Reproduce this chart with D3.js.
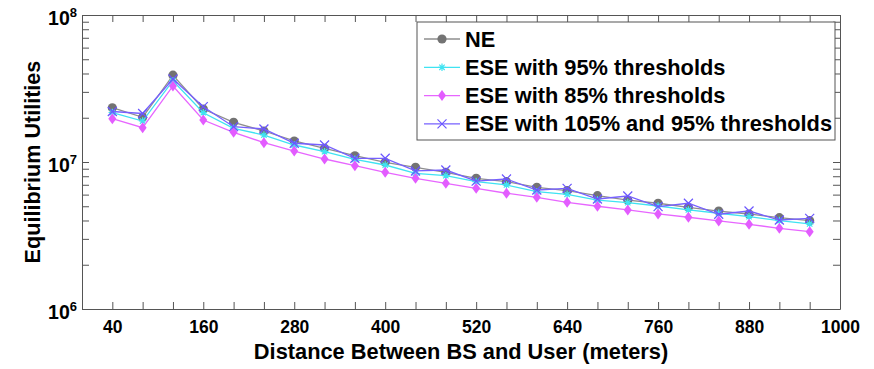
<!DOCTYPE html>
<html>
<head>
<meta charset="utf-8">
<script src="https://cdn.jsdelivr.net/npm/d3@7"></script>
<style>
  body { margin: 0; background: #fff; }
  svg { display: block; font-family: "Liberation Sans", Arial, sans-serif; font-weight: bold; }
</style>
</head>
<body>
<svg width="874" height="369"></svg>
<script>
// Data
var distances = [40, 80, 120, 160, 200, 240, 280, 320, 360, 400, 440, 480,
                 520, 560, 600, 640, 680, 720, 760, 800, 840, 880, 920, 960];
var neValues = [23.4e6, 20.15e6, 38.95e6, 22.94e6, 18.63e6, 16.25e6, 13.9e6, 12.4e6, 11.03e6, 9.95e6, 9.2e6, 8.51e6,
                7.75e6, 7.35e6, 6.73e6, 6.38e6, 5.9e6, 5.51e6, 5.24e6, 4.92e6, 4.64e6, 4.43e6, 4.18e6, 3.99e6];
var ese95Values = [21.71e6, 19.0e6, 35.74e6, 21.64e6, 16.96e6, 15.26e6, 13.05e6, 11.75e6, 10.43e6, 9.54e6, 8.38e6, 8.07e6,
                   7.35e6, 6.98e6, 6.28e6, 6.03e6, 5.51e6, 5.29e6, 5.02e6, 4.72e6, 4.48e6, 4.25e6, 3.99e6, 3.79e6];
var ese85Values = [19.71e6, 17.12e6, 32.89e6, 19.31e6, 15.92e6, 13.53e6, 11.88e6, 10.48e6, 9.44e6, 8.51e6, 7.75e6, 7.16e6,
                   6.62e6, 6.13e6, 5.75e6, 5.32e6, 5.0e6, 4.72e6, 4.43e6, 4.21e6, 3.97e6, 3.77e6, 3.54e6, 3.36e6];
var ese105Values = [22.06e6, 21.37e6, 36.7e6, 23.78e6, 17.39e6, 16.77e6, 13.41e6, 13.05e6, 10.6e6, 10.6e6, 8.69e6, 8.82e6,
                    7.42e6, 7.66e6, 6.45e6, 6.62e6, 5.6e6, 5.87e6, 4.97e6, 5.24e6, 4.41e6, 4.64e6, 4.03e6, 4.14e6];
var seriesNames = ['NE', 'ESE with 95% thresholds', 'ESE with 85% thresholds', 'ESE with 105% and 95% thresholds'];
var xTickLabels = [40, 160, 280, 400, 520, 640, 760, 880, 1000];
var xTicks = [40, 80, 120, 160, 200, 240, 280, 320, 360, 400, 440, 480, 520,
              560, 600, 640, 680, 720, 760, 800, 840, 880, 920, 960, 1000];
var yMajorTicks = [1e6, 1e7, 1e8];

// Margins and sizes
var margin = {top: 15, right: 34, bottom: 60, left: 82};
var width = 874 - margin.left - margin.right;
var height = 369 - margin.top - margin.bottom;
var axisColor = '#555';
var tickLen = 7;

var x = d3.scaleLinear().domain([0, 1000]).range([0, width]);
var y = d3.scaleLog().domain([1e6, 1e8]).range([height, 0]);

// minor log ticks 1..9 x 10^n
var yTicks = [];
[1e6, 1e7].forEach(function(p) {
  for (var k = 1; k < 10; k++) yTicks.push(k * p);
});
yTicks.push(1e8);

var svg = d3.select('svg');
var chart = svg.append('g')
  .attr('transform', 'translate(' + margin.left + ',' + margin.top + ')');

function styleAxis(g) {
  g.selectAll('path, line').attr('stroke', axisColor).attr('stroke-width', 1);
  g.selectAll('text').attr('fill', '#000').attr('font-family', null).attr('font-size', null);
}

// Tick marks pointing inward on all four sides
chart.append('g').attr('transform', 'translate(0,' + height + ')')
  .call(d3.axisBottom(x).tickValues(xTicks).tickSizeInner(-tickLen).tickSizeOuter(0).tickFormat(''))
  .call(styleAxis);
chart.append('g')
  .call(d3.axisTop(x).tickValues(xTicks).tickSizeInner(-tickLen).tickSizeOuter(0).tickFormat(''))
  .call(styleAxis);
chart.append('g')
  .call(d3.axisLeft(y).tickValues(yTicks).tickSizeInner(-tickLen).tickSizeOuter(0).tickFormat(''))
  .call(styleAxis);
chart.append('g').attr('transform', 'translate(' + width + ',0)')
  .call(d3.axisRight(y).tickValues(yTicks).tickSizeInner(-tickLen).tickSizeOuter(0).tickFormat(''))
  .call(styleAxis);

// X tick labels
var xLab = chart.append('g').attr('transform', 'translate(0,' + height + ')')
  .call(d3.axisBottom(x).tickValues(xTickLabels).tickSize(0).tickPadding(12).tickFormat(d3.format('d')))
  .call(styleAxis);
xLab.select('.domain').remove();
xLab.selectAll('text').attr('font-size', 17.5);

// Y tick labels as 10^n
var yLab = chart.append('g')
  .call(d3.axisLeft(y).tickValues(yMajorTicks).tickSize(0).tickPadding(5).tickFormat(''))
  .call(styleAxis);
yLab.select('.domain').remove();
yLab.selectAll('text').each(function(d) {
  var t = d3.select(this).attr('dy', null).attr('y', 9).attr('font-size', 19.5);
  t.append('tspan').text('10');
  t.append('tspan').attr('font-size', 13).attr('dy', -8).text(Math.round(Math.log10(d)));
});

// Axis titles
svg.append('text')
  .attr('x', margin.left + width / 2).attr('y', 359)
  .attr('text-anchor', 'middle').attr('font-size', 21.8)
  .text('Distance Between BS and User (meters)');
svg.append('text')
  .attr('transform', 'translate(40,' + (margin.top + height / 2) + ') rotate(-90)')
  .attr('text-anchor', 'middle').attr('font-size', 21.6)
  .text('Equilibrium Utilities');

// Series definitions
var series = [
  {name: seriesNames[0], values: neValues, color: '#8e8e8e', markColor: '#737373', marker: 'circle'},
  {name: seriesNames[1], values: ese95Values, color: '#3fe3f2', markColor: '#3fe3f2', marker: 'star'},
  {name: seriesNames[2], values: ese85Values, color: '#e766ff', markColor: '#e35cff', marker: 'diamond'},
  {name: seriesNames[3], values: ese105Values, color: '#7660ff', markColor: '#6a55ff', marker: 'cross'}
];

var line = d3.line().x(function(d) { return x(d[0]); }).y(function(d) { return y(d[1]); });

function drawMarker(g, type, color, cx, cy) {
  if (type === 'circle') {
    g.append('circle').attr('cx', cx).attr('cy', cy).attr('r', 4.6).attr('fill', color);
  } else if (type === 'diamond') {
    g.append('path').attr('d', 'M' + cx + ',' + (cy - 5.5) + 'L' + (cx + 4) + ',' + cy +
      'L' + cx + ',' + (cy + 5.5) + 'L' + (cx - 4) + ',' + cy + 'Z').attr('fill', color);
  } else if (type === 'cross') {
    g.append('path').attr('d', 'M' + (cx - 4.5) + ',' + (cy - 4.5) + 'L' + (cx + 4.5) + ',' + (cy + 4.5) +
      'M' + (cx - 4.5) + ',' + (cy + 4.5) + 'L' + (cx + 4.5) + ',' + (cy - 4.5))
      .attr('stroke', color).attr('stroke-width', 1.2).attr('fill', 'none');
  } else if (type === 'star') {
    var s = 3.8, r = 2.7;
    g.append('path').attr('d', 'M' + (cx - s) + ',' + cy + 'L' + (cx + s) + ',' + cy +
      'M' + cx + ',' + (cy - s) + 'L' + cx + ',' + (cy + s) +
      'M' + (cx - r) + ',' + (cy - r) + 'L' + (cx + r) + ',' + (cy + r) +
      'M' + (cx - r) + ',' + (cy + r) + 'L' + (cx + r) + ',' + (cy - r))
      .attr('stroke', color).attr('stroke-width', 1.2).attr('fill', 'none');
  }
}

// The lines and markers
series.forEach(function(s) {
  var pts = distances.map(function(d, i) { return [d, s.values[i]]; });
  var g = chart.append('g');
  g.append('path').datum(pts)
    .attr('fill', 'none').attr('stroke', s.color).attr('stroke-width', 1.3)
    .attr('d', line);
  pts.forEach(function(p) { drawMarker(g, s.marker, s.markColor, x(p[0]), y(p[1])); });
});

// Legend
var legend = svg.append('g').attr('transform', 'translate(417,22)');
legend.append('rect').attr('width', 418).attr('height', 118)
  .attr('fill', '#fff').attr('stroke', axisColor).attr('stroke-width', 1);
series.forEach(function(s, i) {
  var ly = 17 + i * 28.3;
  legend.append('line').attr('x1', 7).attr('x2', 43).attr('y1', ly).attr('y2', ly)
    .attr('stroke', s.color).attr('stroke-width', 1.3);
  drawMarker(legend, s.marker, s.markColor, 25, ly);
  legend.append('text').attr('x', 48).attr('y', ly + 7.5)
    .attr('font-size', 21.8).attr('fill', '#000').text(s.name);
});
</script>
</body>
</html>
